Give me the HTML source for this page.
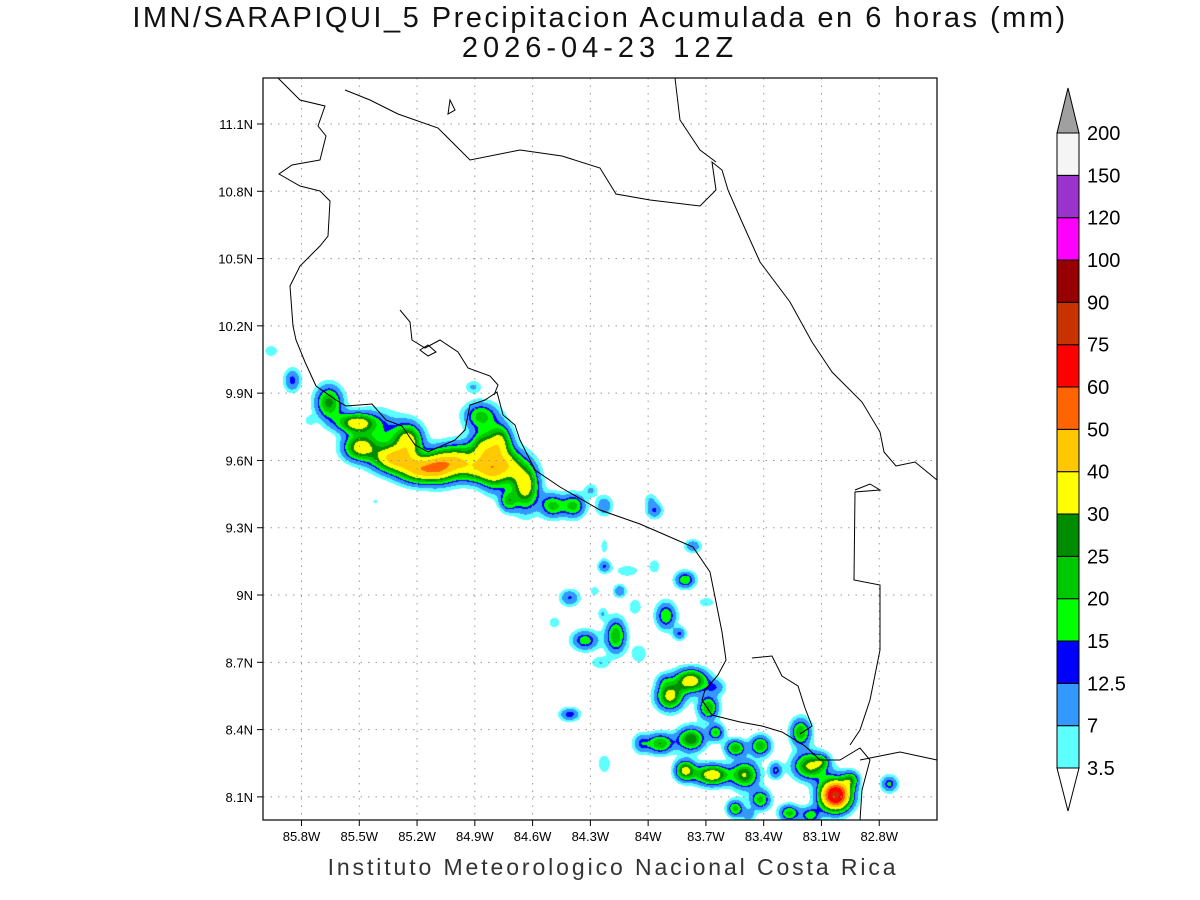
<!DOCTYPE html>
<html><head><meta charset="utf-8"><style>
body{margin:0;background:#fff;width:1200px;height:900px;overflow:hidden;font-family:"Liberation Sans",sans-serif}
#wrap{position:relative;width:1200px;height:900px}
.t{position:absolute;left:0;width:1200px;text-align:center;color:#000}
canvas{position:absolute;left:263px;top:78px}
svg{position:absolute;left:0;top:0}
</style></head><body>
<div id="wrap">
<div class="t" style="top:2px;font-size:29px;letter-spacing:2.5px;color:#111">IMN/SARAPIQUI_5 Precipitacion Acumulada en 6 horas (mm)</div>
<div class="t" style="top:32px;font-size:29px;letter-spacing:5px;color:#111">2026-04-23 12Z</div>
<div class="t" style="top:854px;left:13px;font-size:23px;letter-spacing:2.9px;color:#333">Instituto Meteorologico Nacional Costa Rica</div>
<canvas id="cv" width="674" height="742"></canvas>
<svg id="sv" width="1200" height="900"></svg>
</div>
<script>
const lonTicks=[85.8,85.5,85.2,84.9,84.6,84.3,84.0,83.7,83.4,83.1,82.8];
const latTicks=[11.1,10.8,10.5,10.2,9.9,9.6,9.3,9.0,8.7,8.4,8.1];
const levels=[3.5,7,12.5,15,20,25,30,40,50,60,75,90,100,120,150,200];
const levelColors=["#5effff","#3399ff","#0000ff","#00ff00","#00c800","#008c00","#ffff00","#ffc800","#ff6400","#ff0000","#c83200","#960000","#ff00ff","#9933cc","#f5f5f5","#a0a0a0"];
const blobLon=[85.85,85.66,85.52,85.50,85.33,85.24,85.19,85.08,84.98,84.88,84.86,84.80,84.87,84.77,84.72,84.64,84.73,84.50,84.39,84.23,84.30,83.97,83.99,83.77,84.23,84.23,84.11,83.97,84.41,84.28,84.15,84.17,84.33,84.24,84.07,83.91,83.81,83.70,83.84,84.05,84.49,84.25,83.78,83.89,83.69,83.65,83.92,83.78,83.94,84.04,83.65,83.55,83.42,83.21,83.34,83.81,83.67,83.50,83.16,83.03,82.95,83.10,82.75,83.42,83.55,83.27,83.16,83.48,84.41,84.23,84.91,85.76,85.42,85.96,85.40,85.28];
const blobLat=[9.96,9.86,9.77,9.66,9.61,9.69,9.56,9.58,9.60,9.56,9.66,9.56,9.80,9.69,9.58,9.49,9.42,9.40,9.40,9.40,9.47,9.38,9.43,9.22,9.13,9.22,9.11,9.13,8.99,9.02,9.02,8.82,8.80,8.92,8.95,8.91,9.07,8.97,8.83,8.74,8.88,8.70,8.62,8.55,8.50,8.59,8.62,8.36,8.34,8.34,8.39,8.32,8.33,8.39,8.22,8.22,8.20,8.20,8.24,8.11,8.18,8.26,8.16,8.09,8.05,8.03,8.02,8.02,8.47,8.25,9.93,9.78,9.42,10.09,9.73,9.70];
const blobPeak=[14,27,33,32,38,25,40,35,30,25,28,30,22,28,26,36,20,22,22,12,8,13,6,12,13,5,6,6,13,5,12,25,18,7,7,20,20,7,13,7,6,7,36,33,25,10,8,30,25,12,20,25,25,25,15,33,38,30,32,80,20,12,16,22,22,22,18,10,15,7,8,6,4,6,10,10];
const blobSX=[5,8,12,10,12,8,13,10,10,10,8,8,10,7,8,8,5,7,7,5,4,5,4,5,4,3,8,4,6,4,4,6,8,3,4,6,6,5,4,5,4,6,10,8,6,6,5,8,8,5,5,6,6,6,4,6,10,8,10,9,5,4,5,6,5,6,6,4,6,4,5,3,3,5,14,10];
const blobSY=[7,10,6,8,8,10,8,10,10,8,10,12,8,10,10,14,6,7,7,6,4,5,4,4,4,6,4,5,5,4,4,10,6,4,5,8,5,3,4,6,4,4,7,8,7,5,5,7,6,6,5,5,6,8,5,6,6,8,8,9,5,4,5,6,5,5,5,4,4,6,4,3,3,4,14,10];

const X0=263,X1=937,Y0=78,Y1=820;
const LONL=86.0,LONR=82.5,LATT=11.305,LATB=7.997;
const xOf=lon=>X0+(LONL-lon)/(LONL-LONR)*(X1-X0);
const yOf=lat=>Y0+(LATT-lat)/(LATT-LATB)*(Y1-Y0);
function hex(c){return [parseInt(c.substr(1,2),16),parseInt(c.substr(3,2),16),parseInt(c.substr(5,2),16)];}
const rgb=levelColors.map(hex);
const cv=document.getElementById('cv'),ctx=cv.getContext('2d');
const W=674,H=742,img=ctx.createImageData(W,H),F=new Float32Array(W*H);
for(let b=0;b<blobLon.length;b++){
  const cx=xOf(blobLon[b])-X0,cy=yOf(blobLat[b])-Y0,sx=blobSX[b],sy=blobSY[b],p=blobPeak[b];
  const r=Math.ceil(Math.max(sx,sy)*4);
  for(let y=Math.max(0,Math.floor(cy-r));y<Math.min(H,cy+r);y++)for(let x=Math.max(0,Math.floor(cx-r));x<Math.min(W,cx+r);x++){
    const dx=(x-cx)/sx,dy=(y-cy)/sy;F[y*W+x]+=p*Math.exp(-(dx*dx+dy*dy)/2.6);}
}
for(let i=0;i<W*H;i++){const v=F[i];let k=-1;for(let j=0;j<levels.length;j++)if(v>=levels[j])k=j;
  if(k>=0){img.data[i*4]=rgb[k][0];img.data[i*4+1]=rgb[k][1];img.data[i*4+2]=rgb[k][2];img.data[i*4+3]=255;}}
ctx.putImageData(img,0,0);

const NS='http://www.w3.org/2000/svg',sv=document.getElementById('sv');
function mk(t,a,parent){const e=document.createElementNS(NS,t);for(const k in a)e.setAttribute(k,a[k]);(parent||sv).appendChild(e);return e;}
lonTicks.forEach(l=>{const x=xOf(l);
  const g=mk('line',{x1:x,x2:x,y1:Y0,y2:Y1,stroke:'#999','stroke-dasharray':'1.5,6'});
  
  mk('line',{x1:x,x2:x,y1:Y1,y2:Y1+6,stroke:'#000'});
  const tx=mk('text',{x:x,y:Y1+21,'font-size':13,'text-anchor':'middle','font-family':'Liberation Sans'});tx.textContent=(l===84?'84':l.toFixed(1))+'W';
  });
latTicks.forEach(l=>{const y=yOf(l);
  const g=mk('line',{x1:X0,x2:X1,y1:y,y2:y,stroke:'#999','stroke-dasharray':'1.5,6'});
  
  mk('line',{x1:X0-6,x2:X0,y1:y,y2:y,stroke:'#000'});
  const tx=mk('text',{x:X0-10,y:y+5,'font-size':13,'text-anchor':'end','font-family':'Liberation Sans'});tx.textContent=(l===9?'9':l.toFixed(1))+'N';
  });
const coast=[
"M278,78 L300,100 L325,106 L318,126 L326,136 L320,160 L292,165 L279,174 L300,186 L320,191 L330,201 L328,236 L320,246 L300,266 L290,286 L293,326 L296,340 L305,362 L316,386 L336,400 L346,406 L372,404 L386,420 L402,426 L415,445 L428,452 L455,440 L465,430 L470,405 L485,400 L497,392 L503,415 L515,425 L520,440 L525,450 L535,470 L560,487 L600,510 L640,524 L670,537 L693,547 L710,572 L716,602 L722,632 L726,660 L718,675 L705,690 L702,700 L712,715 L740,722 L762,726 L782,732 L805,746 L820,760 L840,760 L860,748 L870,760 L862,790 L860,820",
"M400,310 L410,322 L412,340 L425,348 L440,340 L458,352 L468,368 L490,376 L498,385 L494,395",
"M420,350 L428,345 L436,352 L428,356 Z",
"M345,90 L370,100 L398,114 L438,128 L470,160 L520,150 L562,156 L600,168 L616,194 L650,200 L700,206 L716,190 L712,162 L722,170 L728,190",
"M675,78 L680,120 L700,150 L716,162",
"M728,190 L742,222 L760,262 L790,302 L812,342 L832,372 L862,402 L880,432 L884,452 L896,466 L915,462 L937,480",
"M855,490 L870,484 L880,490 L855,492 L854,580 L880,585 L880,650 L870,700 L860,730 L850,745",
"M752,658 L772,656 L782,676 L798,686 L805,708 L812,726 L800,734",
"M860,760 L880,756 L900,752 L937,760",
"M450,100 L455,110 L448,114 Z"];
coast.forEach(d=>{const p=mk('path',{d:d,fill:'none',stroke:'#000','stroke-width':1});
  });
const fr=mk('rect',{x:X0,y:Y0,width:X1-X0,height:Y1-Y0,fill:'none',stroke:'#000','stroke-width':1.2});

const CBX=1057,CBW=22,CBTOP=133,CBBOT=768,step=(CBBOT-CBTOP)/15;
for(let i=0;i<15;i++){const y=CBBOT-(i+1)*step;
  const r=mk('rect',{x:CBX,y:y,width:CBW,height:step,fill:levelColors[i],stroke:'#000','stroke-width':1});
  }
const tu=mk('path',{d:`M${CBX},${CBTOP} L${CBX+CBW/2},${CBTOP-45} L${CBX+CBW},${CBTOP} Z`,fill:levelColors[15],stroke:'#000'});

const td=mk('path',{d:`M${CBX},${CBBOT} L${CBX+CBW/2},${CBBOT+43} L${CBX+CBW},${CBBOT} Z`,fill:'#fff',stroke:'#000'});

levels.forEach((v,i)=>{const y=CBBOT-i*step;
  const t=mk('text',{x:CBX+CBW+8,y:y+7,'font-size':20,'font-family':'Liberation Sans'});t.textContent=v;
  });
</script>
</body></html>
